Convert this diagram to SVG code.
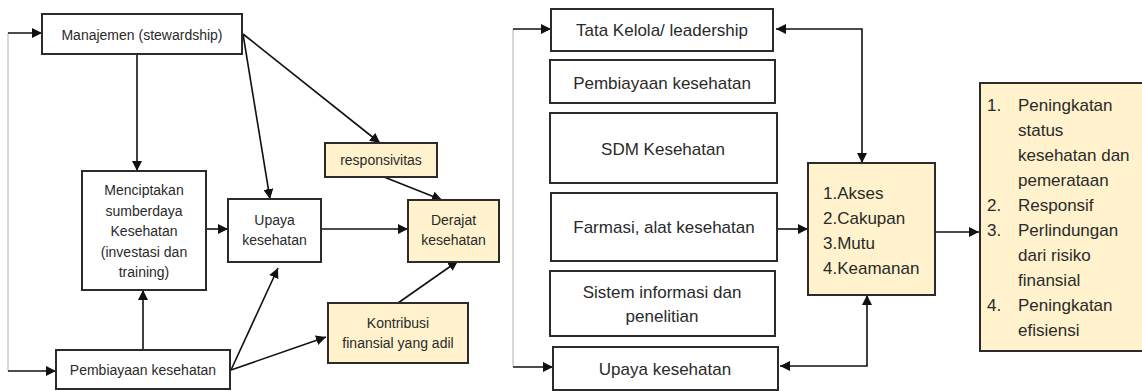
<svg xmlns="http://www.w3.org/2000/svg" width="1142" height="391" viewBox="0 0 1142 391">
  <style>
    .box { fill: #ffffff; stroke: #2b2b2b; stroke-width: 2; }
    .hi { fill: #fff2cc; stroke: #2b2b2b; stroke-width: 2; }
    .t14 { font-family: "Liberation Sans", Arial, sans-serif; font-size: 14px; fill: #2a2a2a; text-anchor: middle; }
    .t17 { font-family: "Liberation Sans", Arial, sans-serif; font-size: 17px; fill: #2a2a2a; text-anchor: middle; }
    .l17 { font-family: "Liberation Sans", Arial, sans-serif; font-size: 17px; fill: #2a2a2a; }
    .arr { fill: none; stroke: #111111; stroke-width: 1.6; marker-end: url(#head); }
    .both { fill: none; stroke: #111111; stroke-width: 1.6; marker-start: url(#headStart); marker-end: url(#head); }
    .thin { fill: none; stroke: #b0b0b0; stroke-width: 1; }
  </style>
  <defs>
    <marker id="head" markerUnits="userSpaceOnUse" markerWidth="11" markerHeight="10" refX="10" refY="5" orient="auto">
      <path d="M0,0 L10,5 L0,10 Z" fill="#111111"/>
    </marker>
    <marker id="headStart" markerUnits="userSpaceOnUse" markerWidth="11" markerHeight="10" refX="0" refY="5" orient="auto">
      <path d="M10,0 L0,5 L10,10 Z" fill="#111111"/>
    </marker>
  </defs>

  <rect width="1142" height="391" fill="#ffffff"/>

  <!-- connectors -->
  <g id="connectors">
    <!-- left model -->
    <line class="thin" x1="8" y1="33" x2="8" y2="371"/>
    <line class="arr" x1="8" y1="33" x2="42" y2="33"/>
    <line class="arr" x1="8" y1="371" x2="56" y2="371"/>
    <line class="arr" x1="137" y1="54" x2="137" y2="171"/>
    <line class="arr" x1="243" y1="34" x2="270" y2="199"/>
    <line class="arr" x1="243" y1="34" x2="380" y2="143"/>
    <line class="arr" x1="205" y1="229" x2="228" y2="229"/>
    <line class="arr" x1="321" y1="229" x2="408" y2="229"/>
    <line class="arr" x1="384" y1="177" x2="442" y2="200"/>
    <line class="arr" x1="398" y1="303" x2="458" y2="261"/>
    <line class="arr" x1="143" y1="350" x2="143" y2="290"/>
    <line class="arr" x1="231" y1="370" x2="278" y2="268"/>
    <line class="arr" x1="231" y1="370" x2="326" y2="337"/>

    <!-- right model -->
    <line class="thin" x1="513" y1="29" x2="513" y2="367"/>
    <line class="arr" x1="513" y1="29" x2="551" y2="29"/>
    <line class="arr" x1="513" y1="367" x2="553" y2="367"/>
    <polyline class="both" points="776,29 862,29 862,163"/>
    <polyline class="both" points="780,366 867,366 867,295"/>
    <line class="arr" x1="776" y1="229" x2="808" y2="229"/>
    <line class="arr" x1="935" y1="232" x2="979" y2="232"/>
  </g>

  <!-- left model nodes -->
  <g id="manajemen">
    <rect class="box" x="42" y="14" width="200" height="40"/>
    <text class="t14" x="142" y="40">Manajemen (stewardship)</text>
  </g>
  <g id="menciptakan">
    <rect class="box" x="82" y="171" width="124" height="119"/>
    <text class="t14" x="144" y="195">Menciptakan</text>
    <text class="t14" x="144" y="216">sumberdaya</text>
    <text class="t14" x="144" y="236">Kesehatan</text>
    <text class="t14" x="144" y="257">(investasi dan</text>
    <text class="t14" x="144" y="277">training)</text>
  </g>
  <g id="upaya-left">
    <rect class="box" x="228" y="199" width="93" height="63"/>
    <text class="t14" x="274.5" y="225">Upaya</text>
    <text class="t14" x="274.5" y="245">kesehatan</text>
  </g>
  <g id="responsivitas">
    <rect class="hi" x="325" y="143" width="112" height="34"/>
    <text class="t14" x="381" y="165">responsivitas</text>
  </g>
  <g id="derajat">
    <rect class="hi" x="408" y="200" width="91" height="62"/>
    <text class="t14" x="453.5" y="225">Derajat</text>
    <text class="t14" x="453.5" y="245">kesehatan</text>
  </g>
  <g id="kontribusi">
    <rect class="hi" x="328" y="303" width="140" height="60"/>
    <text class="t14" x="398" y="328">Kontribusi</text>
    <text class="t14" x="398" y="348">finansial yang adil</text>
  </g>
  <g id="pembiayaan-left">
    <rect class="box" x="56" y="350" width="174" height="39"/>
    <text class="t14" x="143" y="375">Pembiayaan kesehatan</text>
  </g>

  <!-- right model nodes -->
  <g id="tata-kelola">
    <rect class="box" x="551" y="9" width="222" height="42"/>
    <text class="t17" x="662" y="36">Tata Kelola/ leadership</text>
  </g>
  <g id="pembiayaan-right">
    <rect class="box" x="550" y="60" width="225" height="43"/>
    <text class="t17" x="662" y="89">Pembiayaan kesehatan</text>
  </g>
  <g id="sdm">
    <rect class="box" x="550" y="113" width="227" height="70"/>
    <text class="t17" x="663" y="155">SDM Kesehatan</text>
  </g>
  <g id="farmasi">
    <rect class="box" x="551" y="193" width="226" height="68"/>
    <text class="t17" x="664" y="233">Farmasi, alat kesehatan</text>
  </g>
  <g id="sistem-informasi">
    <rect class="box" x="550" y="271" width="225" height="65"/>
    <text class="t17" x="662" y="298">Sistem informasi dan</text>
    <text class="t17" x="662" y="322">penelitian</text>
  </g>
  <g id="upaya-right">
    <rect class="box" x="553" y="347" width="225" height="43"/>
    <text class="t17" x="665" y="375">Upaya kesehatan</text>
  </g>
  <g id="kinerja">
    <rect class="hi" x="808" y="163" width="127" height="132"/>
    <text class="l17" x="823" y="199">1.Akses</text>
    <text class="l17" x="823" y="224">2.Cakupan</text>
    <text class="l17" x="823" y="249">3.Mutu</text>
    <text class="l17" x="823" y="274">4.Keamanan</text>
  </g>
  <g id="tujuan">
    <rect class="hi" x="980" y="83" width="172" height="268"/>
    <text class="l17" x="987" y="111">1.</text>
    <text class="l17" x="1018" y="111">Peningkatan</text>
    <text class="l17" x="1018" y="136">status</text>
    <text class="l17" x="1018" y="161">kesehatan dan</text>
    <text class="l17" x="1018" y="186">pemerataan</text>
    <text class="l17" x="987" y="211">2.</text>
    <text class="l17" x="1018" y="211">Responsif</text>
    <text class="l17" x="987" y="236">3.</text>
    <text class="l17" x="1018" y="236">Perlindungan</text>
    <text class="l17" x="1018" y="261">dari risiko</text>
    <text class="l17" x="1018" y="286">finansial</text>
    <text class="l17" x="987" y="311">4.</text>
    <text class="l17" x="1018" y="311">Peningkatan</text>
    <text class="l17" x="1018" y="336">efisiensi</text>
  </g>
</svg>
